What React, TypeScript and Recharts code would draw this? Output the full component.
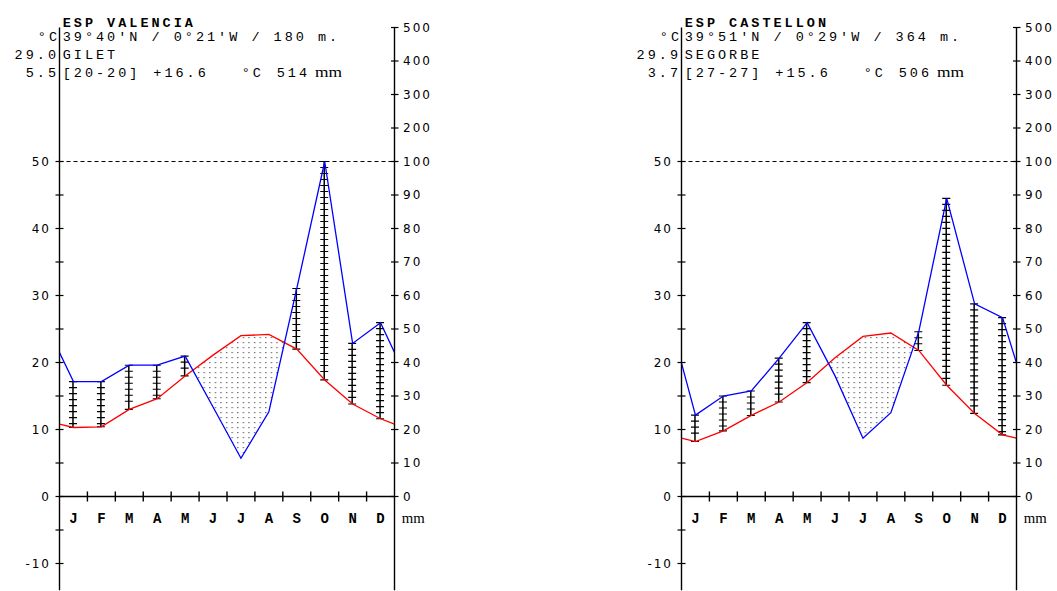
import React from 'react';
import { ComposedChart, Line, Area, Bar, Scatter, XAxis, YAxis, ReferenceLine } from 'recharts';

const months = ['J', 'F', 'M', 'A', 'M', 'J', 'J', 'A', 'S', 'O', 'N', 'D'];

// Valencia / Gilet
const valenciaTemp = [10.3, 10.4, 13.0, 14.6, 18.0, 21.1, 24.0, 24.2, 22.0, 17.4, 13.8, 11.6];
const valenciaPrec = [34.3, 34.3, 39.2, 39.2, 41.9, 26.7, 11.4, 25.3, 62.1, 100, 45.7, 51.9];
const valenciaEdgeTemp = 10.8;
const valenciaEdgePrec = 43.0;

// Castellon / Segorbe
const castellonTemp = [8.2, 9.8, 12.1, 14.1, 17.0, 20.7, 23.9, 24.4, 21.8, 16.6, 12.4, 9.2];
const castellonPrec = [24.3, 30.0, 31.5, 41.3, 51.9, 36.0, 17.4, 25.0, 49.2, 89.0, 57.5, 53.4];
const castellonEdgeTemp = 8.7;
const castellonEdgePrec = 39.8;

// axis ticks (display units: 1 unit = 1 mm = 0.5 °C; above 100 mm scale is 1/10)
const leftTicks = [-20, -10, 0, 10, 20, 30, 40, 50, 60, 70, 80, 90, 100];
const rightTicks = [0, 10, 20, 30, 40, 50, 60, 70, 80, 90, 100, 110, 120, 130, 140];
const rightTickLabels = ['0', '10', '20', '30', '40', '50', '60', '70', '80', '90', '100', '200', '300', '400', '500'];
const monthBounds = [1, 2, 3, 4, 5, 6, 7, 8, 9, 10, 11];
const monthLabelLevel = -6.4;

const headers = [
  { x0: 0, title: 'ESP VALENCIA', coords: "39°40'N / 0°21'W / 180 m.", station: 'GILET', max: '29.0', min: '5.5', period: '[20-20]', mean: '+16.6', total: '514' },
  { x0: 622, title: 'ESP CASTELLON', coords: "39°51'N / 0°29'W / 364 m.", station: 'SEGORBE', max: '29.9', min: '3.7', period: '[27-27]', mean: '+15.6', total: '506' },
];

const dispPrec = (p: number) => (p <= 100 ? p : 100 + (p - 100) / 10);

function buildData(temp: number[], prec: number[], edgeT: number, edgeP: number) {
  const rows: any[] = [{ x: 0, t: edgeT * 2, p: dispPrec(edgeP) }];
  months.forEach((m, i) => {
    const t = temp[i] * 2;
    const p = dispPrec(prec[i]);
    rows.push({ x: i + 0.5, t, p, hum: p > t ? [t, p] : null });
  });
  rows.push({ x: 12, t: edgeT * 2, p: dispPrec(edgeP) });
  return rows;
}

const monthLabelData = months.map((m, i) => ({ x: i + 0.5, y: monthLabelLevel, m }));

const MONO = '"Liberation Mono", "DejaVu Sans Mono", monospace';
const SANS = '"DejaVu Sans", Verdana, sans-serif';
const SERIF = '"Liberation Serif", serif';

const LeftTick = (props: any) => {
  const { x, y, payload } = props;
  const v = payload.value;
  return (
    <g>
      <line x1={x - 4} x2={x + 4} y1={y} y2={y} stroke="#000" strokeWidth={1.2} />
      {v % 20 === 0 && (
        <text x={x - 10.5 + 2} y={y} dy="0.36em" textAnchor="end" fontFamily={SANS} fontSize={12} letterSpacing={2} fill="#000">
          {String(v / 2)}
        </text>
      )}
    </g>
  );
};

const RightTick = (props: any) => {
  const { x, y, payload, index } = props;
  const v = payload.value;
  const idx = rightTicks.indexOf(v);
  return (
    <g>
      <line x1={x - 3.5} x2={x + 4} y1={y} y2={y} stroke="#000" strokeWidth={1.2} />
      <text x={x + 8.5} y={y} dy="0.36em" textAnchor="start" fontFamily={SANS} fontSize={12} letterSpacing={2} fill="#000">
        {rightTickLabels[idx >= 0 ? idx : index]}
      </text>
    </g>
  );
};

const HatchBar = (props: any) => {
  const { x, y, width, height } = props;
  if (x == null || y == null) return null;
  const top = Math.min(y, y + height);
  const bot = Math.max(y, y + height);
  const cx = x + width / 2;
  const bars: number[] = [];
  for (let yy = top; yy < bot - 3; yy += 6) bars.push(yy);
  bars.push(bot);
  return (
    <g>
      <line x1={cx} x2={cx} y1={top} y2={bot} stroke="#000" strokeWidth={1.5} />
      {bars.map((yy, i) => (
        <line key={i} x1={cx - 4} x2={cx + 4} y1={yy} y2={yy} stroke="#000" strokeWidth={1.1} />
      ))}
    </g>
  );
};

const MonthLabel = (props: any) => {
  const { cx, cy, payload } = props;
  return (
    <text x={cx} y={cy} dy="0.36em" textAnchor="middle" fontFamily={MONO} fontWeight="bold" fontSize={14} fill="#000">
      {payload.m}
    </text>
  );
};

function Panel({ data, left }: { data: any[]; left: number }) {
  return (
    <div style={{ position: 'absolute', left, top: 0 }}>
      <ComposedChart width={470} height={591} data={data} margin={{ top: 27.5, right: 0, bottom: 0.7, left: 0 }}>
        <XAxis dataKey="x" type="number" domain={[0, 12]} hide allowDataOverflow />
        <YAxis
          yAxisId="l"
          orientation="left"
          width={59.5}
          type="number"
          domain={[-28, 140]}
          ticks={leftTicks}
          interval={0}
          tickSize={0}
          tickMargin={0}
          tickLine={false}
          axisLine={{ stroke: '#000', strokeWidth: 1.4 }}
          tick={(p: any) => <LeftTick {...p} />}
          allowDataOverflow
        />
        <YAxis
          yAxisId="r"
          orientation="right"
          width={75.5}
          type="number"
          domain={[-28, 140]}
          ticks={rightTicks}
          interval={0}
          tickSize={0}
          tickMargin={0}
          tickLine={false}
          axisLine={{ stroke: '#000', strokeWidth: 1.4 }}
          tick={(p: any) => <RightTick {...p} />}
          allowDataOverflow
        />
        <Area yAxisId="l" dataKey="t" type="linear" stroke="none" fill="url(#dots)" fillOpacity={1} baseValue={0} isAnimationActive={false} />
        <Area yAxisId="l" dataKey="p" type="linear" stroke="none" fill="#ffffff" fillOpacity={1} baseValue={0} isAnimationActive={false} />
        <ReferenceLine yAxisId="l" y={100} stroke="#000" strokeDasharray="4 3" strokeWidth={1} />
        <ReferenceLine yAxisId="l" y={0} stroke="#000" strokeWidth={1.4} />
        {monthBounds.map((k) => (
          <ReferenceLine key={k} yAxisId="l" segment={[{ x: k, y: -1.5 }, { x: k, y: 1.5 }]} stroke="#000" strokeWidth={1.4} />
        ))}
        <Bar yAxisId="l" dataKey="hum" barSize={9} shape={(p: any) => <HatchBar {...p} />} isAnimationActive={false} />
        <Line yAxisId="l" dataKey="t" type="linear" stroke="#ff0000" strokeWidth={1.3} dot={false} isAnimationActive={false} />
        <Line yAxisId="l" dataKey="p" type="linear" stroke="#0000ff" strokeWidth={1.3} dot={false} isAnimationActive={false} />
        <Scatter yAxisId="l" data={monthLabelData} dataKey="y" shape={(p: any) => <MonthLabel {...p} />} isAnimationActive={false} />
      </ComposedChart>
    </div>
  );
}

const valenciaData = buildData(valenciaTemp, valenciaPrec, valenciaEdgeTemp, valenciaEdgePrec);
const castellonData = buildData(castellonTemp, castellonPrec, castellonEdgeTemp, castellonEdgePrec);

export default function App() {
  const ls = 3.0;
  const txt = { fontFamily: MONO, fontSize: 13.5, letterSpacing: ls, fill: '#000' } as any;
  return (
    <div style={{ position: 'absolute', left: 0, top: 0, width: 1057, height: 591, background: '#fff', overflow: 'hidden' }}>
      <Panel data={valenciaData} left={0} />
      <Panel data={castellonData} left={622} />
      <svg width={1057} height={591} style={{ position: 'absolute', left: 0, top: 0, pointerEvents: 'none' }}>
        <defs>
          <pattern id="dots" patternUnits="userSpaceOnUse" width={5.6} height={5} x={0} y={0}>
            <rect x={2} y={2} width={1.2} height={1.2} fill="#555" />
          </pattern>
        </defs>
        {headers.map((h) => (
          <g key={h.title}>
            <text x={h.x0 + 62.7} y={26.5} {...txt} fontWeight="bold">{h.title}</text>
            <text x={h.x0 + 57 + ls} y={41} {...txt} textAnchor="end">°C</text>
            <text x={h.x0 + 62.7} y={41} {...txt}>{h.coords}</text>
            <text x={h.x0 + 56 + ls} y={58.5} {...txt} textAnchor="end">{h.max}</text>
            <text x={h.x0 + 62.7} y={58.5} {...txt}>{h.station}</text>
            <text x={h.x0 + 56 + ls} y={76.5} {...txt} textAnchor="end">{h.min}</text>
            <text x={h.x0 + 62.7} y={76.5} {...txt}>{h.period}</text>
            <text x={h.x0 + 153.3} y={76.5} {...txt}>{h.mean}</text>
            <text x={h.x0 + 241.7} y={76.5} {...txt}>°C</text>
            <text x={h.x0 + 276.7} y={76.5} {...txt}>{h.total}</text>
            <text x={h.x0 + 315} y={76.5} fontFamily={SERIF} fontSize={14} textLength={27} lengthAdjust="spacingAndGlyphs" fill="#000">mm</text>
            <text x={h.x0 + 401.7} y={523} fontFamily={SERIF} fontSize={14} textLength={23} lengthAdjust="spacingAndGlyphs" fill="#000">mm</text>
          </g>
        ))}
      </svg>
    </div>
  );
}
